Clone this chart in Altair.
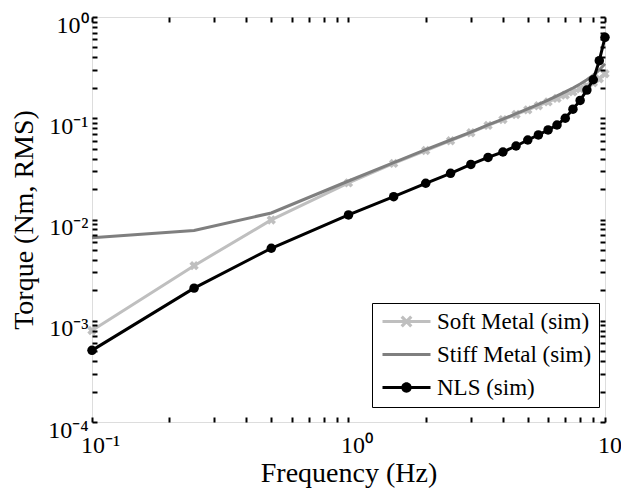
import altair as alt
import pandas as pd

# ---------------- data ----------------
freq = [0.1, 0.25, 0.5, 1, 1.5, 2, 2.5, 3, 3.5, 4, 4.5, 5, 5.5, 6, 6.5, 7, 7.5, 8, 8.5, 9, 9.5, 10]
soft = [0.0008, 0.0035, 0.0099, 0.0230, 0.0358, 0.048, 0.060, 0.072, 0.085, 0.097, 0.109,
        0.121, 0.133, 0.145, 0.157, 0.169, 0.182, 0.195, 0.209, 0.224, 0.245, 0.275]
stiff = [0.0066, 0.0078, 0.0116, 0.0240, 0.0365, 0.049, 0.061, 0.073, 0.086, 0.098, 0.111,
         0.124, 0.137, 0.151, 0.166, 0.182, 0.199, 0.218, 0.240, 0.266, 0.300, 0.345]
nls = [0.00051, 0.0021, 0.0052, 0.0111, 0.0168, 0.0228, 0.0286, 0.0350, 0.0410, 0.0464, 0.0532,
       0.0610, 0.0684, 0.0766, 0.0858, 0.1000, 0.1230, 0.1500, 0.1900, 0.2400, 0.3700, 0.6300]

series_names = ["Soft Metal (sim)", "Stiff Metal (sim)", "NLS (sim)"]
series_colors = ["#bfbfbf", "#7f7f7f", "#000000"]

x_ticks = [m * 10.0 ** e for e in (-1, 0) for m in range(1, 10)] + [10.0]
y_ticks = [m * 10.0 ** e for e in (-4, -3, -2, -1) for m in range(1, 10)] + [1.0]
exp_labels = ["\u207b\u2074", "\u207b\u00b3", "\u207b\u00b2", "\u207b\u00b9", "\u2070", "\u00b9"]

rows = []
for name, vals in zip(series_names, [soft, stiff, nls]):
    for f, v in zip(freq, vals):
        rows.append({"f": f, "v": v, "series": name})
df = pd.DataFrame(rows)

# legend symbols: line with marker (units of 8 px, symbolSize 256)
line_rect = "M-1,-0.19L5,-0.19L5,0.19L-1,0.19Z"
x_mark = ("M1.54,-0.74L2.74,0.46L2.46,0.74L1.26,-0.46Z"
          "M2.74,-0.46L1.54,0.74L1.26,0.46L2.46,-0.74Z")
o_mark = "M1.35,0A0.65,0.65 0 1,1 2.65,0A0.65,0.65 0 1,1 1.35,0Z"
legend_paths = [line_rect + x_mark, line_rect, line_rect + o_mark]

FONT = "Liberation Serif"
arr = "[" + ",".join("'" + s + "'" for s in exp_labels) + "]"
label_expr = ("abs(log(datum.value)/LN10 - round(log(datum.value)/LN10)) < 0.001 ? "
              "'10' + " + arr + "[round(log(datum.value)/LN10) + 4] : ''")

xs = alt.Scale(type="log", domain=[0.1, 10], nice=False)
ys = alt.Scale(type="log", domain=[1e-4, 1], nice=False)

tick_common = dict(grid=False, domain=False, ticks=True, offset=-5, tickSize=5, tickWidth=2,
                   tickColor="black", tickOpacity=1, labelOverlap=False, labelFlush=False,
                   zindex=1)

x_axis = alt.Axis(orient="bottom", values=x_ticks, labelExpr=label_expr,
                  labelFont=FONT, labelFontSize=24, labelColor="black",
                  labelPadding=11, labelOffset=8,
                  title="Frequency (Hz)", titleFont=FONT, titleFontSize=28,
                  titleFontWeight="normal", titleColor="black",
                  titleX=256.5, titleY=64, titleBaseline="alphabetic", **tick_common)
y_axis = alt.Axis(orient="left", values=y_ticks, labelExpr=label_expr,
                  labelFont=FONT, labelFontSize=24, labelColor="black",
                  labelPadding=4, labelOffset=8,
                  title="Torque (Nm, RMS)", titleFont=FONT, titleFontSize=28,
                  titleFontWeight="normal", titleColor="black",
                  titleX=-65, titleY=202.5, titleAngle=270, titleBaseline="alphabetic",
                  **tick_common)
x_axis_top = alt.Axis(orient="top", values=x_ticks, labels=False, title=None, **tick_common)
y_axis_right = alt.Axis(orient="right", values=y_ticks, labels=False, title=None, **tick_common)

X = alt.X("f:Q", scale=xs, axis=x_axis)
Y = alt.Y("v:Q", scale=ys, axis=y_axis)

base = alt.Chart(df)


def only(name):
    return base.transform_filter(alt.datum.series == name)


soft_line = only(series_names[0]).mark_line(strokeWidth=3, color=series_colors[0]).encode(x=X, y=Y)
soft_pts = only(series_names[0]).mark_point(shape="cross", angle=45, filled=True, size=90,
                                           opacity=1, color=series_colors[0]).encode(x=X, y=Y)
stiff_line = only(series_names[1]).mark_line(strokeWidth=3, color=series_colors[1]).encode(x=X, y=Y)
nls_line = only(series_names[2]).mark_line(strokeWidth=3, color=series_colors[2]).encode(x=X, y=Y)

leg = dict(title=None, orient="none", legendX=280, legendY=286, direction="vertical",
           padding=7, strokeColor="black", fillColor="white", cornerRadius=0,
           labelFont=FONT, labelFontSize=23, labelColor="black", labelLimit=400,
           symbolSize=256, symbolStrokeWidth=0, labelOffset=35, rowPadding=9, zindex=2)

legend_layer = base.transform_filter("false").mark_point(filled=True, opacity=1).encode(
    x=X, y=Y,
    color=alt.Color("series:N", scale=alt.Scale(domain=series_names, range=series_colors),
                    legend=alt.Legend(**leg)),
    shape=alt.Shape("series:N", scale=alt.Scale(domain=series_names, range=legend_paths),
                    legend=alt.Legend(**leg)),
)

main = alt.layer(soft_line, soft_pts, stiff_line, nls_line, legend_layer)

nls_pts = only(series_names[2]).mark_point(shape="circle", filled=True, size=90, opacity=1,
                                          color=series_colors[2]).encode(
    x=alt.X("f:Q", scale=xs, axis=x_axis_top),
    y=alt.Y("v:Q", scale=ys, axis=y_axis_right),
)

chart = alt.layer(main, nls_pts).resolve_axis(x="independent", y="independent").properties(
    width=513, height=405,
    padding={"left": 92, "top": 17, "right": 16, "bottom": 69},
    autosize=alt.AutoSizeParams(type="none"),
    background="white",
).configure_view(stroke="black", strokeWidth=2).configure_legend(
    labelFont=FONT, labelFontSize=23, labelColor="black", titleFont=FONT
).configure(font=FONT)

chart.save("out.html", embed_options={"renderer": "svg", "actions": False})
